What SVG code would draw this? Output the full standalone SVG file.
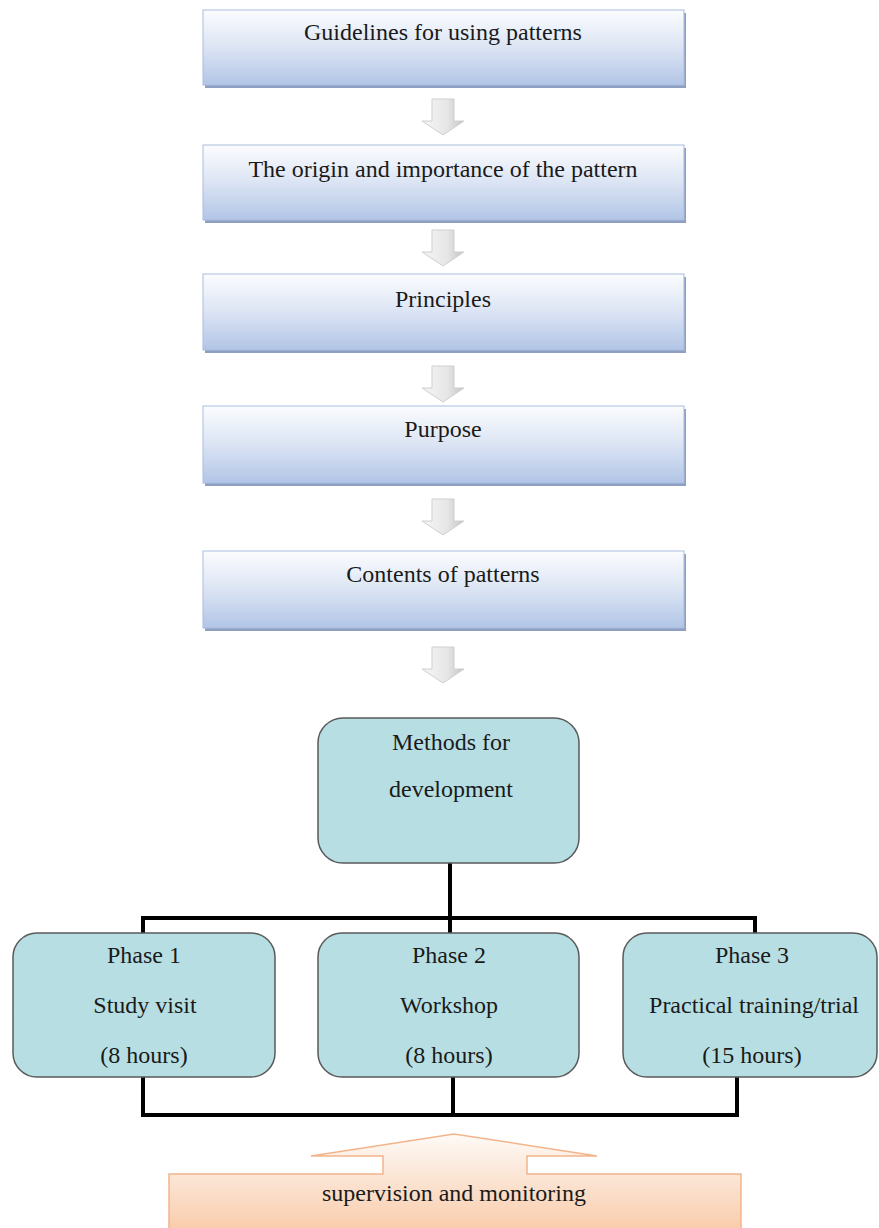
<svg xmlns="http://www.w3.org/2000/svg" width="879" height="1228" viewBox="0 0 879 1228">
<defs>
<linearGradient id="gBlue" x1="0" y1="0" x2="0" y2="1">
<stop offset="0" stop-color="#fbfcfe"/>
<stop offset="0.45" stop-color="#dfe7f5"/>
<stop offset="1" stop-color="#b2c5e6"/>
</linearGradient>
<linearGradient id="gGray" x1="0" y1="0" x2="1" y2="0">
<stop offset="0" stop-color="#f6f6f6"/>
<stop offset="0.6" stop-color="#e6e6e6"/>
<stop offset="1" stop-color="#c4c4c4"/>
</linearGradient>
<linearGradient id="gPeach" x1="0" y1="0" x2="0" y2="1">
<stop offset="0" stop-color="#fefaf7"/>
<stop offset="1" stop-color="#f8c7a3"/>
</linearGradient>
</defs>
<style>
.box{fill:url(#gBlue);stroke:#a9bde0;stroke-width:1}
.shadow{fill:#8e9fc2}
.t{font-family:"Liberation Serif","Times New Roman",serif;font-size:24px;fill:#1a1a1a;text-anchor:middle}
.ga{fill:url(#gGray);stroke:#cfcfcf;stroke-width:1}
.rb{fill:#b7dfe3;stroke:#5a5a5a;stroke-width:1.5}
.ln{fill:none;stroke:#000;stroke-width:4;stroke-linecap:square}
</style>
<rect width="879" height="1228" fill="#ffffff"/>

<g id="n1">
<rect class="shadow" x="205" y="13" width="481" height="75"/>
<rect class="box" x="203" y="10" width="481" height="75"/>
<text class="t" x="443" y="40">Guidelines for using patterns</text>
</g>
<g id="n2">
<rect class="shadow" x="205" y="148" width="481" height="75"/>
<rect class="box" x="203" y="145" width="481" height="75"/>
<text class="t" x="443" y="177">The origin and importance of the pattern</text>
</g>
<g id="n3">
<rect class="shadow" x="205" y="277" width="481" height="76"/>
<rect class="box" x="203" y="274" width="481" height="76"/>
<text class="t" x="443" y="307">Principles</text>
</g>
<g id="n4">
<rect class="shadow" x="205" y="409" width="481" height="77"/>
<rect class="box" x="203" y="406" width="481" height="77"/>
<text class="t" x="443" y="437">Purpose</text>
</g>
<g id="n5">
<rect class="shadow" x="205" y="554" width="481" height="77"/>
<rect class="box" x="203" y="551" width="481" height="77"/>
<text class="t" x="443" y="582">Contents of patterns</text>
</g>

<g id="arrows">
<path class="ga" d="M432,99 H454 V121 H464 L443,135 L422,121 H432 Z"/>
<path class="ga" d="M432,230 H454 V252 H464 L443,266 L422,252 H432 Z"/>
<path class="ga" d="M432,366 H454 V388 H464 L443,402 L422,388 H432 Z"/>
<path class="ga" d="M432,499 H454 V521 H464 L443,535 L422,521 H432 Z"/>
<path class="ga" d="M432,647 H454 V669 H464 L443,683 L422,669 H432 Z"/>
</g>

<g id="connectors">
<path class="ln" d="M450,863 V933"/>
<path class="ln" d="M143,933 V918 H755 V933"/>
<path class="ln" d="M143,1077 V1115 H737 V1077"/>
<path class="ln" d="M453,1077 V1115"/>
</g>

<g id="methods">
<rect class="rb" x="318" y="718" width="261" height="145" rx="25"/>
<text class="t" x="451" y="750">Methods for</text>
<text class="t" x="451" y="797">development</text>
</g>
<g id="phase1">
<rect class="rb" x="13" y="933" width="262" height="144" rx="24"/>
<text class="t" x="144" y="963">Phase 1</text>
<text class="t" x="145" y="1013">Study visit</text>
<text class="t" x="144" y="1063">(8 hours)</text>
</g>
<g id="phase2">
<rect class="rb" x="318" y="933" width="261" height="144" rx="24"/>
<text class="t" x="449" y="963">Phase 2</text>
<text class="t" x="449" y="1013">Workshop</text>
<text class="t" x="449" y="1063">(8 hours)</text>
</g>
<g id="phase3">
<rect class="rb" x="623" y="933" width="254" height="144" rx="24"/>
<text class="t" x="752" y="963">Phase 3</text>
<text class="t" x="754" y="1013">Practical training/trial</text>
<text class="t" x="752" y="1063">(15 hours)</text>
</g>

<g id="supervision">
<path d="M169,1174 H383 V1156 H311 L454,1134 L597,1156 H527 V1174 H741 V1240 H169 Z" fill="url(#gPeach)" stroke="#f3b48a" stroke-width="1.5"/>
<text class="t" x="454" y="1201">supervision and monitoring</text>
</g>
</svg>
